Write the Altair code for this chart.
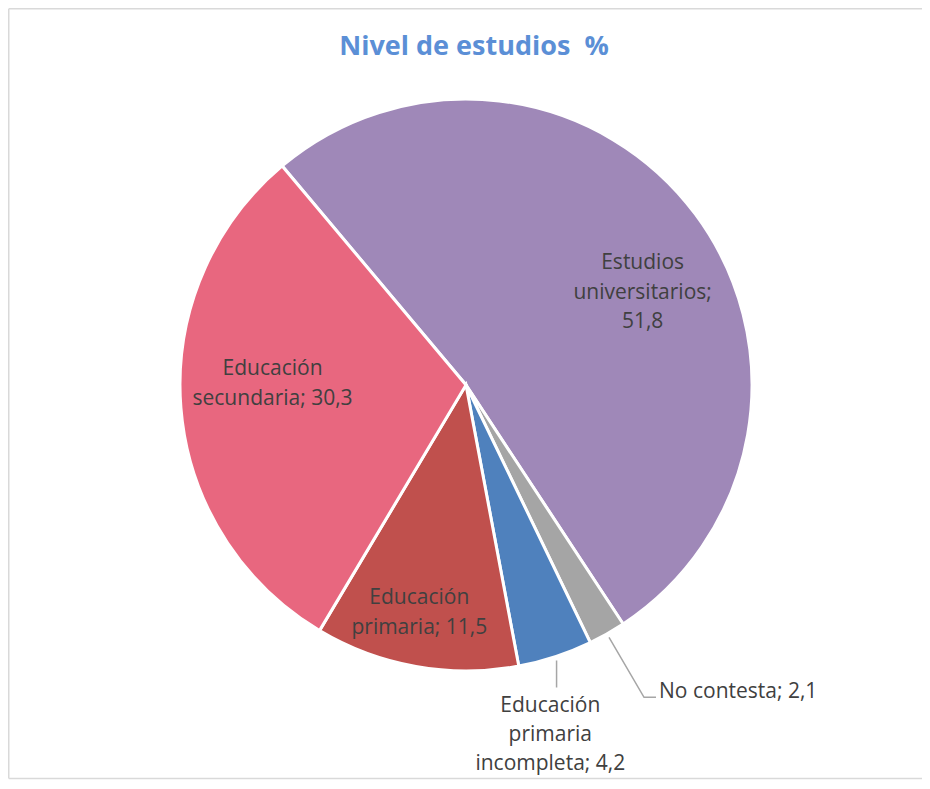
import math
import altair as alt
import pandas as pd

# ---- data ----
title_text = "Nivel de estudios\u00a0 %"
categories = [
    "Estudios universitarios",
    "No contesta",
    "Educación primaria incompleta",
    "Educación primaria",
    "Educación secundaria",
]
values = [51.8, 2.1, 4.2, 11.5, 30.3]
label_prefix = [
    "Estudios|universitarios;",
    "No contesta;",
    "Educación|primaria|incompleta;",
    "Educación|primaria;",
    "Educación|secundaria;",
]
label_sep = ["|", " ", " ", " ", " "]
colors = ["#9F88B8", "#A5A5A5", "#4F81BD", "#C0504D", "#E8677F"]

# ---- layout ----
OX, OY = 8, 3
CX, CY = 466 - OX, 385 - OY
R = 286
START_DEG = -40.0
start = math.radians(START_DEG) + 2 * math.pi
VIEW_W, VIEW_H = 914, 777  # svg: 914 x 772, fits the window without scrolling

def fmt(v):
    return f"{v:.1f}".replace(".", ",")

labels = [f"{p}{s}{fmt(v)}" for p, s, v in zip(label_prefix, label_sep, values)]
df = pd.DataFrame({"cat": categories, "value": values, "idx": list(range(len(values))), "label": labels})

total = sum(values)
mids = []
cum = 0.0
for v in values:
    mids.append(START_DEG + (cum + v / 2) / total * 360)
    cum += v

def polar(a, r):
    t = math.radians(a)
    return CX + r * math.sin(t), CY - r * math.cos(t)

# leader lines derived from the slice mid-angles
lx0, ly0 = polar(mids[1], R + 4)
lx1, ly1 = polar(mids[2], R + 4)
leaders = pd.DataFrame({
    "seg": [0, 0, 0, 1, 1],
    "k": [0, 1, 2, 0, 1],
    "x": [lx0, lx0 + 35, lx0 + 47, lx1, lx1],
    "y": [ly0, ly0 + 60, ly0 + 60, ly1, ly1 + 27],
})

theta = alt.Theta("value:Q", stack=True, scale=alt.Scale(range=[start, start + 2 * math.pi]))
base = alt.Chart(df).encode(theta=theta, order=alt.Order("idx:Q"),
                            x=alt.value(CX), y=alt.value(CY))

arcs = base.mark_arc(outerRadius=R, stroke="white", strokeWidth=3).encode(
    color=alt.Color("cat:N", scale=alt.Scale(domain=categories, range=colors), legend=None)
)

FONT = "Open Sans"
TXT = "#404040"

def lab(i, radius, dx, dy, align="center", baseline="middle", lh=29.5):
    return base.mark_text(
        radius=radius, dx=dx, dy=dy, align=align, baseline=baseline,
        font=FONT, fontSize=21, color=TXT, lineBreak="|", lineHeight=lh,
    ).encode(text=alt.condition(alt.datum.idx == i, "label:N", alt.value("")))

t_univ = lab(0, 199, 17, -3)
t_nc = lab(1, R, 52, 64, align="left", baseline="alphabetic")
t_inc = lab(2, R, -5, 55, baseline="alphabetic", lh=29)
t_prim = lab(3, 232, -6, -15)
t_sec = lab(4, 180, -14, -30)

lines = alt.Chart(leaders).mark_line(color="#A6A6A6", strokeWidth=1.5).encode(
    x=alt.X("x:Q", scale=None), y=alt.Y("y:Q", scale=None),
    detail="seg:N", order="k:Q",
)

title = alt.Chart(pd.DataFrame({"t": [title_text]})).mark_text(
    font=FONT, fontSize=27, fontWeight="bold", color="#5B8FD6", baseline="alphabetic"
).encode(text="t:N", x=alt.value(474 - OX), y=alt.value(55 - OY))

# chart-area frame (left, top, bottom edges; the right edge lies outside the picture)
one = pd.DataFrame({"a": [0]})
BL, BT, BB = 8.75 - OX, 8.75 - OY, VIEW_H - 1.5
frame_style = dict(color="#D9D9D9", strokeWidth=1.5)
f_left = alt.Chart(one).mark_rule(**frame_style).encode(
    x=alt.value(BL), y=alt.value(BT), y2=alt.value(BB))
f_top = alt.Chart(one).mark_rule(**frame_style).encode(
    x=alt.value(BL), x2=alt.value(VIEW_W + 20), y=alt.value(BT))
f_bot = alt.Chart(one).mark_rule(**frame_style).encode(
    x=alt.value(BL), x2=alt.value(VIEW_W + 20), y=alt.value(BB))

chart = alt.layer(f_left, f_top, f_bot, arcs, lines, t_univ, t_nc, t_inc, t_prim, t_sec, title).properties(
    width=VIEW_W, height=VIEW_H, autosize="none",
    padding={"left": 0, "top": -5, "right": 0, "bottom": 0},
).configure_view(strokeWidth=0, stroke="transparent")

chart.save("out.html", embed_options={"renderer": "svg", "actions": False})
